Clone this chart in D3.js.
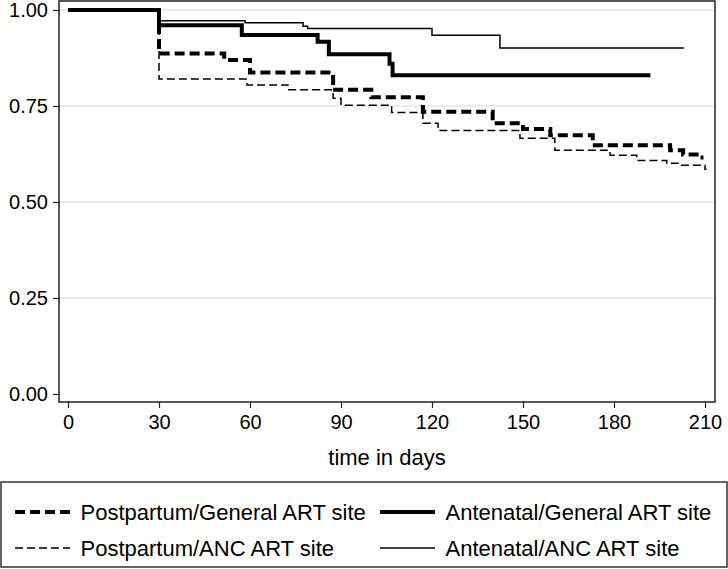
<!DOCTYPE html>
<html><head><meta charset="utf-8">
<script src="https://cdn.jsdelivr.net/npm/d3@7/dist/d3.min.js"></script>
<style>body{margin:0;background:#fff;}svg{display:block;font-family:"Liberation Sans",Arial,sans-serif;}</style>
</head><body>
<script>
// ---- data ----
const seriesNames = ["Postpartum/General ART site","Antenatal/General ART site","Postpartum/ANC ART site","Antenatal/ANC ART site"];
const postGenT = [0, 30, 51.5, 60, 87.4, 100, 117, 140, 150, 159, 173, 198.5, 202.8, 208.4, 209.5];
const postGenS = [1, 0.887, 0.870, 0.837, 0.792, 0.773, 0.735, 0.705, 0.690, 0.674, 0.648, 0.635, 0.624, 0.616, 0.616];
const antGenT = [0, 30, 57.3, 82.3, 86, 106, 107, 192];
const antGenS = [1, 0.960, 0.935, 0.917, 0.885, 0.86, 0.830, 0.830];
const postAncT = [0, 30, 59, 72.5, 87.4, 90, 106.7, 117, 122, 149, 160.5, 178.7, 187.5, 197.4, 201.8, 210, 210.5];
const postAncS = [1, 0.820, 0.805, 0.792, 0.770, 0.752, 0.733, 0.705, 0.686, 0.666, 0.635, 0.622, 0.608, 0.601, 0.596, 0.585, 0.585];
const antAncT = [0, 30, 58.4, 77.5, 79, 120, 142.4, 203];
const antAncS = [1, 0.972, 0.967, 0.958, 0.952, 0.934, 0.901, 0.901];
const xTicks = [0, 30, 60, 90, 120, 150, 180, 210];
const yTicks = [0, 0.25, 0.5, 0.75, 1];
const yTickLabels = ["0.00","0.25","0.50","0.75","1.00"];
const xTitle = "time in days";

const W = 728, H = 569;
const svg = d3.select("body").append("svg").attr("width", W).attr("height", H);
const frame = {l: 59, r: 715, t: 1, b: 402};
const x = d3.scaleLinear().domain([0, 210]).range([68, 705]);
const y = d3.scaleLinear().domain([0, 1]).range([394, 10]);

// gridlines
svg.append("g").selectAll("line").data(yTicks.filter(d => d > 0)).join("line")
  .attr("x1", frame.l).attr("x2", frame.r)
  .attr("y1", d => y(d)).attr("y2", d => y(d))
  .attr("stroke", "#e6e6e6").attr("stroke-width", 1.5);

// frame
svg.append("rect").attr("x", frame.l).attr("y", frame.t)
  .attr("width", frame.r - frame.l).attr("height", frame.b - frame.t)
  .attr("fill", "none").attr("stroke", "#222").attr("stroke-width", 1.5);

// y axis
const yAxis = d3.axisLeft(y).tickValues(yTicks).tickFormat((d, i) => yTickLabels[i]).tickSize(6).tickPadding(5);
const gy = svg.append("g").attr("transform", `translate(${frame.l},0)`).call(yAxis);
gy.select(".domain").remove();
gy.selectAll("line").attr("stroke", "#222").attr("stroke-width", 1.2);
gy.selectAll("text").attr("font-size", 20).attr("fill", "#000").attr("font-family", "Liberation Sans, Arial, sans-serif");

// x axis
const xAxis = d3.axisBottom(x).tickValues(xTicks).tickFormat(d3.format("d")).tickSize(6).tickPadding(7);
const gx = svg.append("g").attr("transform", `translate(0,${frame.b})`).call(xAxis);
gx.select(".domain").remove();
gx.selectAll("line").attr("stroke", "#222").attr("stroke-width", 1.2);
gx.selectAll("text").attr("font-size", 20).attr("fill", "#000").attr("font-family", "Liberation Sans, Arial, sans-serif");

svg.append("text").attr("x", (frame.l + frame.r) / 2).attr("y", 465)
  .attr("text-anchor", "middle").attr("font-size", 22).text(xTitle);

// curves
const styles = [
  {t: postGenT, s: postGenS, w: 4, dash: "10,5"},
  {t: antGenT, s: antGenS, w: 4, dash: null},
  {t: postAncT, s: postAncS, w: 1.5, dash: "8,4"},
  {t: antAncT, s: antAncS, w: 1.5, dash: null}
];
const line = d3.line().x(d => x(d[0])).y(d => y(d[1])).curve(d3.curveStepAfter);
const order = [3, 2, 1, 0];
order.forEach(i => {
  const st = styles[i];
  const pts = st.t.map((t, j) => [t, st.s[j]]);
  svg.append("path").datum(pts).attr("d", line)
    .attr("fill", "none").attr("stroke", "#000").attr("stroke-width", st.w)
    .attr("stroke-dasharray", st.dash);
});

// legend
svg.append("rect").attr("x", 1).attr("y", 482).attr("width", 726).attr("height", 85)
  .attr("fill", "none").attr("stroke", "#333").attr("stroke-width", 1.5);
const legPos = [[15, 512], [380, 512], [15, 548], [380, 548]];
seriesNames.forEach((name, i) => {
  const st = styles[i];
  const [lx, ly] = legPos[i];
  svg.append("line").attr("x1", lx).attr("x2", lx + 55).attr("y1", ly).attr("y2", ly)
    .attr("stroke", "#000").attr("stroke-width", st.w).attr("stroke-dasharray", st.dash);
  svg.append("text").attr("x", lx + 65.5).attr("y", ly + 8).attr("font-size", 22).text(name);
});
</script>
</body></html>
